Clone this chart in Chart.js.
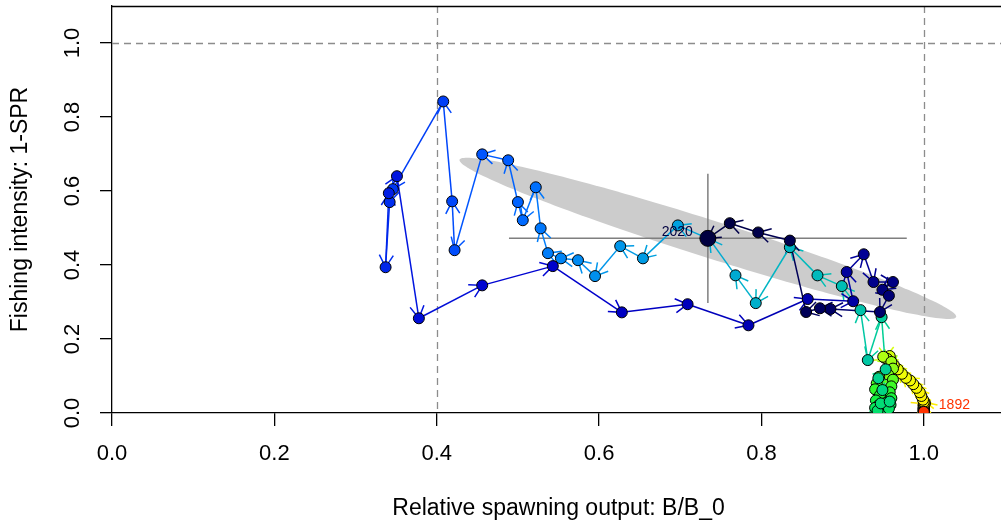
<!DOCTYPE html>
<html>
<head>
<meta charset="utf-8">
<script src="https://cdn.jsdelivr.net/npm/chart.js@4.4.1/dist/chart.umd.min.js"></script>
<style>
  html, body { margin: 0; padding: 0; background: #fff; overflow: hidden; }
  #wrap { width: 1010px; height: 526px; }
  #chart { display: block; }
</style>
</head>
<body>
<div id="wrap"><canvas id="chart" width="1010" height="526" style="width:1010px;height:526px"></canvas></div>
<script>
// --- Data (1892-2020) ---
const firstYear = 1892;

// Relative spawning output B/B_0, one value per year
const bratio = [
  1.000, 1.000, 1.000, 1.000, 1.000, 1.000, 1.000, 1.000, 1.000, 1.000,
  1.000, 1.000, 1.000, 1.000, 1.000, 1.000, 1.000, 1.000, 1.000, 1.000,
  1.000, 1.000, 1.000, 1.000, 1.000, 1.000, 1.000, 1.000, 1.000, 1.000,
  1.000, 1.000, 1.000, 1.000, 1.001, 1.001, 1.001, 1.000, 0.999, 0.997,
  0.995, 0.991, 0.987, 0.983, 0.978, 0.973, 0.968, 0.963, 0.959, 0.958,
  0.952, 0.955, 0.950, 0.960, 0.962, 0.956, 0.945, 0.962, 0.942, 0.960,
  0.940, 0.958, 0.946, 0.960, 0.941, 0.953, 0.944, 0.959, 0.940, 0.950,
  0.957, 0.943, 0.947, 0.958, 0.949, 0.944, 0.953, 0.948, 0.931, 0.922,
  0.899, 0.869, 0.835, 0.793, 0.768, 0.736, 0.697, 0.654, 0.626, 0.595,
  0.574, 0.553, 0.537, 0.528, 0.522, 0.506, 0.500, 0.488, 0.456, 0.422,
  0.419, 0.408, 0.346, 0.342, 0.337, 0.341, 0.351, 0.378, 0.456, 0.543,
  0.628, 0.709, 0.784, 0.857, 0.913, 0.905, 0.926, 0.938, 0.962, 0.949,
  0.957, 0.946, 0.885, 0.872, 0.855, 0.835, 0.796, 0.761, 0.734
];

// Fishing intensity 1-SPR, one value per year
const spr = [
  0.003, 0.003, 0.004, 0.004, 0.005, 0.005, 0.006, 0.006, 0.007, 0.007,
  0.008, 0.008, 0.009, 0.009, 0.010, 0.010, 0.011, 0.011, 0.012, 0.012,
  0.013, 0.013, 0.014, 0.015, 0.015, 0.016, 0.017, 0.018, 0.019, 0.020,
  0.021, 0.022, 0.023, 0.024, 0.025, 0.026, 0.028, 0.030, 0.036, 0.046,
  0.056, 0.068, 0.078, 0.088, 0.095, 0.106, 0.118, 0.130, 0.142, 0.154,
  0.149, 0.146, 0.152, 0.138, 0.120, 0.104, 0.098, 0.090, 0.080, 0.072,
  0.064, 0.056, 0.048, 0.040, 0.034, 0.027, 0.020, 0.022, 0.014, 0.009,
  0.012, 0.006, 0.026, 0.031, 0.062, 0.094, 0.118, 0.259, 0.143, 0.278,
  0.343, 0.372, 0.448, 0.297, 0.372, 0.470, 0.507, 0.418, 0.451, 0.370,
  0.413, 0.418, 0.432, 0.499, 0.610, 0.521, 0.570, 0.683, 0.699, 0.440,
  0.572, 0.842, 0.605, 0.570, 0.394, 0.594, 0.640, 0.256, 0.345, 0.397,
  0.272, 0.294, 0.237, 0.308, 0.302, 0.381, 0.429, 0.354, 0.354, 0.333,
  0.317, 0.273, 0.281, 0.283, 0.273, 0.466, 0.488, 0.513, 0.472
];

// Uncertainty of the final-year estimate
const finalSdB = 0.125;
const finalSdSpr = 0.089;
const finalCorr = -0.97;

const xTicks = [0, 0.2, 0.4, 0.6, 0.8, 1.0];
const yTicks = [0, 0.2, 0.4, 0.6, 0.8, 1.0];
const refX = [0.4, 1.0];
const refY = [1.0];

const n = bratio.length;
const years = bratio.map((_, i) => firstYear + i);
const points = bratio.map((b, i) => ({ x: b, y: spr[i] }));

// r4ss-style rich.colors.short, reversed so the first year is red
function richColorsShort(count) {
  const out = [];
  for (let k = 0; k < count; k++) {
    const t = count === 1 ? 0 : k / (count - 1);
    const r = 1 / (1 + Math.exp(20 - 35 * t));
    const g = Math.min(Math.max(0, -0.8 + 6 * t - 5 * t * t), 1);
    const b = Math.exp(-0.5 * Math.pow((t - 0.25) / 0.15, 2));
    out.push(`rgb(${Math.round(r * 255)},${Math.round(g * 255)},${Math.round(b * 255)})`);
  }
  return out;
}
const colvec = richColorsShort(n).reverse();

const FONT = "'Liberation Sans', Arial, Helvetica, sans-serif";

const phasePlugin = {
  id: 'phaseDecor',
  beforeDatasetsDraw(chart) {
    const { ctx, chartArea: a, scales: { x, y } } = chart;
    ctx.save();
    ctx.beginPath();
    ctx.rect(a.left, a.top, a.right - a.left, a.bottom - a.top);
    ctx.clip();

    // 95% confidence ellipse around final year
    const cx = bratio[n - 1], cy = spr[n - 1];
    const c = Math.sqrt(5.991);
    ctx.beginPath();
    for (let k = 0; k <= 200; k++) {
      const t = (k / 200) * Math.PI * 2;
      const ex = cx + c * finalSdB * Math.cos(t);
      const ey = cy + c * finalSdSpr * (finalCorr * Math.cos(t) + Math.sqrt(1 - finalCorr * finalCorr) * Math.sin(t));
      const px = x.getPixelForValue(ex), py = y.getPixelForValue(ey);
      if (k === 0) ctx.moveTo(px, py); else ctx.lineTo(px, py);
    }
    ctx.closePath();
    ctx.fillStyle = '#cccccc';
    ctx.fill();

    // dashed reference lines
    ctx.strokeStyle = '#8c8c8c';
    ctx.lineWidth = 1.3;
    ctx.setLineDash([7, 5]);
    refX.forEach(v => {
      const px = Math.round(x.getPixelForValue(v)) + 0.5;
      ctx.beginPath(); ctx.moveTo(px, a.top); ctx.lineTo(px, a.bottom); ctx.stroke();
    });
    refY.forEach(v => {
      const py = Math.round(y.getPixelForValue(v)) + 0.5;
      ctx.beginPath(); ctx.moveTo(a.left, py); ctx.lineTo(a.right, py); ctx.stroke();
    });
    ctx.setLineDash([]);

    // 95% intervals for final year
    ctx.strokeStyle = '#7f7f7f';
    ctx.lineWidth = 1.5;
    ctx.beginPath();
    ctx.moveTo(x.getPixelForValue(cx - 1.96 * finalSdB), y.getPixelForValue(cy));
    ctx.lineTo(x.getPixelForValue(cx + 1.96 * finalSdB), y.getPixelForValue(cy));
    ctx.moveTo(x.getPixelForValue(cx), y.getPixelForValue(cy - 1.96 * finalSdSpr));
    ctx.lineTo(x.getPixelForValue(cx), y.getPixelForValue(cy + 1.96 * finalSdSpr));
    ctx.stroke();

    // arrow heads at the end of each yearly step
    const L = 14, ang = Math.PI / 6;
    ctx.lineWidth = 1.5;
    for (let i = 0; i < n - 1; i++) {
      const x0 = x.getPixelForValue(bratio[i]), y0 = y.getPixelForValue(spr[i]);
      const x1 = x.getPixelForValue(bratio[i + 1]), y1 = y.getPixelForValue(spr[i + 1]);
      if (Math.hypot(x1 - x0, y1 - y0) < 0.01) continue;
      const th = Math.atan2(y1 - y0, x1 - x0);
      ctx.strokeStyle = colvec[i];
      ctx.beginPath();
      ctx.moveTo(x1 - L * Math.cos(th - ang), y1 - L * Math.sin(th - ang));
      ctx.lineTo(x1, y1);
      ctx.lineTo(x1 - L * Math.cos(th + ang), y1 - L * Math.sin(th + ang));
      ctx.stroke();
    }
    ctx.restore();
  },
  afterDraw(chart) {
    const { ctx, chartArea: a, scales: { x, y } } = chart;
    ctx.save();
    // top frame line
    ctx.strokeStyle = '#000';
    ctx.lineWidth = 1.3;
    ctx.beginPath();
    ctx.moveTo(a.left, a.top + 0.5);
    ctx.lineTo(a.right, a.top + 0.5);
    ctx.stroke();

    // rotated y tick labels
    ctx.fillStyle = '#000';
    ctx.font = `22px ${FONT}`;
    ctx.textAlign = 'center';
    ctx.textBaseline = 'middle';
    yTicks.forEach(v => {
      ctx.save();
      ctx.translate(73, y.getPixelForValue(v));
      ctx.rotate(-Math.PI / 2);
      ctx.fillText(v.toFixed(1), 0, 0);
      ctx.restore();
    });

    // first / last year labels
    ctx.font = `14px ${FONT}`;
    ctx.textBaseline = 'middle';
    ctx.fillStyle = colvec[n - 1];
    ctx.textAlign = 'right';
    ctx.fillText(String(years[n - 1]), x.getPixelForValue(bratio[n - 1]) - 15, y.getPixelForValue(spr[n - 1]) - 6);
    ctx.fillStyle = colvec[0];
    ctx.textAlign = 'left';
    ctx.fillText(String(years[0]), x.getPixelForValue(bratio[0]) + 15, y.getPixelForValue(spr[0]) - 7);
    ctx.restore();
  }
};

new Chart(document.getElementById('chart'), {
  type: 'line',
  data: {
    datasets: [
      {
        label: 'first and last year',
        data: [points[0], points[n - 1]],
        showLine: false,
        pointRadius: [5.5, 8],
        pointBackgroundColor: [colvec[0], colvec[n - 1]],
        pointBorderColor: '#000',
        pointBorderWidth: 1,
        order: 0
      },
      {
        label: 'trajectory',
        data: points,
        borderWidth: 1.5,
        tension: 0,
        segment: { borderColor: c => colvec[c.p0DataIndex] },
        pointRadius: 5.5,
        pointBackgroundColor: colvec,
        pointBorderColor: '#000',
        pointBorderWidth: 1,
        order: 1
      }
    ]
  },
  options: {
    responsive: false,
    animation: false,
    layout: { autoPadding: false, padding: { left: 0, top: 6, right: 5, bottom: 0 } },
    plugins: { legend: { display: false }, tooltip: { enabled: false } },
    scales: {
      x: {
        type: 'linear',
        min: 0,
        max: 1.1,
        afterBuildTicks: s => { s.ticks = xTicks.map(v => ({ value: v })); },
        afterFit: s => { s.height = 113; },
        grid: { drawOnChartArea: false, drawTicks: true, tickLength: 13, color: '#000', lineWidth: 1.3 },
        border: { display: true, color: '#000', width: 1.3 },
        ticks: {
          color: '#000',
          padding: 15,
          maxRotation: 0,
          font: { family: FONT, size: 22 },
          callback: v => Number(v).toFixed(1)
        },
        title: {
          display: true,
          text: 'Relative spawning output: B/B_0',
          color: '#000',
          font: { family: FONT, size: 23, lineHeight: 1.2 },
          padding: { top: 0, bottom: 4 }
        }
      },
      y: {
        type: 'linear',
        min: 0,
        max: 1.1,
        afterBuildTicks: s => { s.ticks = yTicks.map(v => ({ value: v })); },
        afterFit: s => { s.width = 112; },
        grid: { drawOnChartArea: false, drawTicks: true, tickLength: 12, color: '#000', lineWidth: 1.3 },
        border: { display: true, color: '#000', width: 1.3 },
        ticks: { display: false },
        title: {
          display: true,
          text: 'Fishing intensity: 1-SPR',
          color: '#000',
          font: { family: FONT, size: 23, lineHeight: 1.2 },
          padding: { top: 7, bottom: 0 }
        }
      }
    }
  },
  plugins: [phasePlugin]
});
</script>
</body>
</html>
